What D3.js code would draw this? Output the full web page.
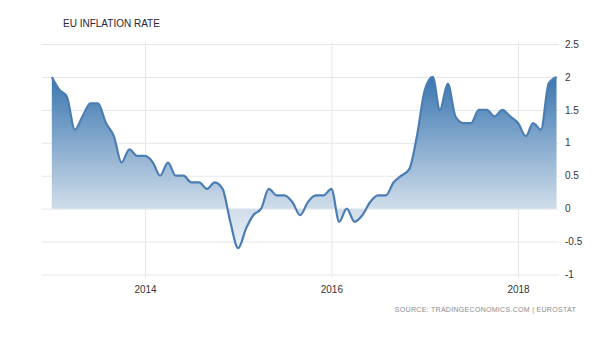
<html>
<head>
<meta charset="utf-8">
<style>
    body { margin: 0px; background: #fff; }
    text { font-family: "Liberation Sans", Arial, sans-serif; }
</style>
</head>
<body>
<svg id="viz"></svg>
</body>
<script src="https://d3js.org/d3.v7.min.js"></script>
<script>
var width = 615;
var height = 362;

// monthly euro area inflation, Jan 2013 .. Jun 2018
var startMonth = "2013-01";
var rates = [
    2.0, 1.8, 1.7, 1.2, 1.4, 1.6, 1.6, 1.3, 1.1, 0.7, 0.9, 0.8,   // 2013
    0.8, 0.7, 0.5, 0.7, 0.5, 0.5, 0.4, 0.4, 0.3, 0.4, 0.3, -0.2,  // 2014
    -0.6, -0.3, -0.1, 0.0, 0.3, 0.2, 0.2, 0.1, -0.1, 0.1, 0.2, 0.2, // 2015
    0.3, -0.2, 0.0, -0.2, -0.1, 0.1, 0.2, 0.2, 0.4, 0.5, 0.6, 1.1, // 2016
    1.8, 2.0, 1.5, 1.9, 1.4, 1.3, 1.3, 1.5, 1.5, 1.4, 1.5, 1.4,   // 2017
    1.3, 1.1, 1.3, 1.2, 1.9, 2.0                                  // 2018
];
var yTicks = [-1, -0.5, 0, 0.5, 1, 1.5, 2, 2.5];
var xTickYears = [2014, 2016, 2018];

var parse = d3.timeParse("%Y-%m");
var t0 = parse(startMonth);
var data = rates.map(function(v, i) {
    return { date: d3.timeMonth.offset(t0, i), value: v };
});

var x = d3.scaleTime()
    .domain([new Date(2014, 0, 1), new Date(2018, 0, 1)])
    .range([145, 518]);
var y = d3.scaleLinear().domain([-1, 2.5]).range([274.5, 44]);

var gridLeft = 42, gridRight = 559;

var svg = d3.select("#viz").attr("width", width).attr("height", height);

// gradient for the area
var defs = svg.append("defs");
var grad = defs.append("linearGradient")
    .attr("id", "areaFill")
    .attr("gradientUnits", "userSpaceOnUse")
    .attr("x1", 0).attr("x2", 0)
    .attr("y1", y(d3.max(rates))).attr("y2", y(d3.min(rates)));
grad.append("stop").attr("offset", 0).attr("stop-color", "#3b76b0");
grad.append("stop").attr("offset", 0.77).attr("stop-color", "#d0ddea");
grad.append("stop").attr("offset", 1).attr("stop-color", "#eaf0f7");

// plain hyphen for negatives, like the original
var fmt = function(d) { return String(d); };

// horizontal grid + right labels
var yAxis = d3.axisRight(y)
    .tickValues(yTicks)
    .tickSize(-(gridRight - gridLeft))
    .tickPadding(6)
    .tickFormat(fmt);
var gy = svg.append("g")
    .attr("transform", "translate(" + gridRight + ",0)")
    .call(yAxis);
gy.select(".domain").remove();
gy.selectAll("line").attr("stroke", "#e6e6e6");
gy.selectAll("text")
    .attr("fill", "#333")
    .style("font-size", "10px")
    .attr("x", 6);

// vertical grid + bottom labels
var xAxis = d3.axisBottom(x)
    .tickValues(xTickYears.map(function(yr) { return new Date(yr, 0, 1); }))
    .tickSize(-(278 - 42))
    .tickPadding(8)
    .tickFormat(d3.timeFormat("%Y"));
var gx = svg.append("g")
    .attr("transform", "translate(0,278)")
    .call(xAxis);
gx.select(".domain").remove();
gx.selectAll("line").attr("stroke", "#e6e6e6");
gx.selectAll("text")
    .attr("fill", "#333")
    .style("font-size", "10px");

var area = d3.area()
    .x(function(d) { return x(d.date); })
    .y0(y(0))
    .y1(function(d) { return y(d.value); })
    .curve(d3.curveMonotoneX);

var line = d3.line()
    .x(function(d) { return x(d.date); })
    .y(function(d) { return y(d.value); })
    .curve(d3.curveMonotoneX);

svg.append("path")
    .datum(data)
    .attr("d", area)
    .attr("fill", "url(#areaFill)");

svg.append("path")
    .datum(data)
    .attr("d", line)
    .attr("fill", "none")
    .attr("stroke", "#4a7db3")
    .attr("stroke-width", 2.2)
    .attr("stroke-linejoin", "round");

// title
svg.append("text")
    .attr("x", 63)
    .attr("y", 27)
    .attr("fill", "#2b2533")
    .style("font-size", "10px")
    .text("EU INFLATION RATE");

// source
svg.append("text")
    .attr("x", 576)
    .attr("y", 312)
    .attr("text-anchor", "end")
    .attr("fill", "#8a8a8a")
    .style("font-size", "7px")
    .style("letter-spacing", "0.3px")
    .text("SOURCE: TRADINGECONOMICS.COM | EUROSTAT");
</script>
</html>
